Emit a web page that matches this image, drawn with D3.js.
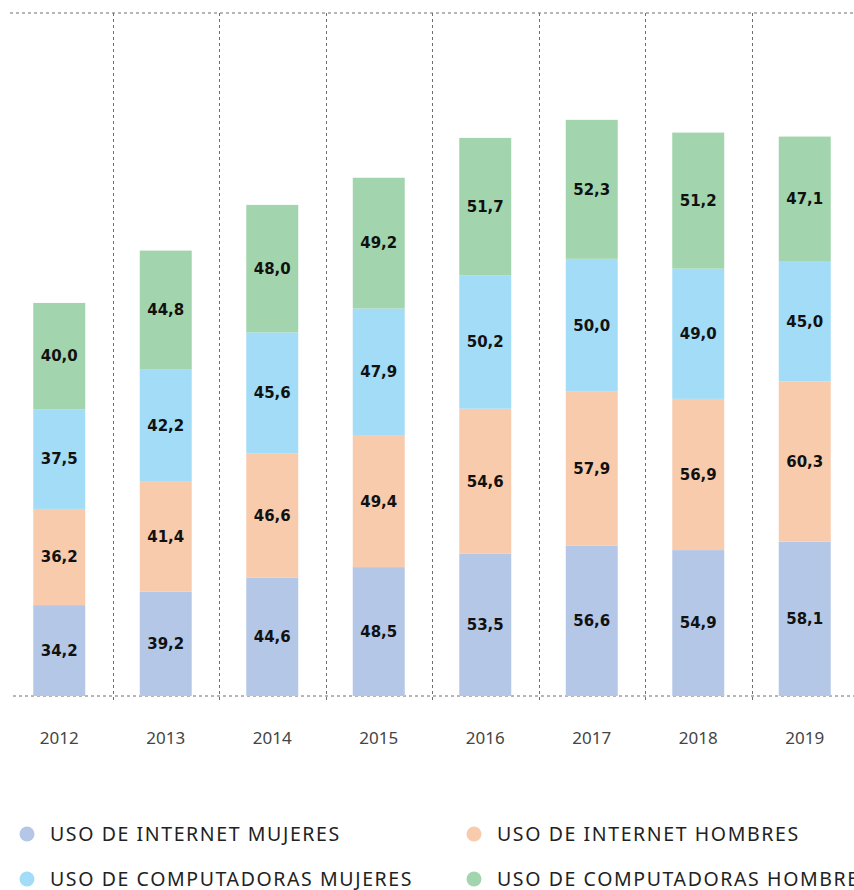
<!DOCTYPE html>
<html>
<head>
<meta charset="utf-8">
<script src="https://cdn.jsdelivr.net/npm/d3@7"></script>
<style>
  body { margin: 0; background: #fff; }
  svg { display: block; font-family: "Noto Sans", "Open Sans", sans-serif; }
</style>
</head>
<body>
<div id="chart"></div>
<script>
// chart data
const years = ["2012", "2013", "2014", "2015", "2016", "2017", "2018", "2019"]
const internetMujeres = [34.2, 39.2, 44.6, 48.5, 53.5, 56.6, 54.9, 58.1]
const internetHombres = [36.2, 41.4, 46.6, 49.4, 54.6, 57.9, 56.9, 60.3]
const compuMujeres = [37.5, 42.2, 45.6, 47.9, 50.2, 50.0, 49.0, 45.0]
const compuHombres = [40.0, 44.8, 48.0, 49.2, 51.7, 52.3, 51.2, 47.1]
const seriesNames = ["USO DE INTERNET MUJERES", "USO DE INTERNET HOMBRES", "USO DE COMPUTADORAS MUJERES", "USO DE COMPUTADORAS HOMBRES"]
const seriesKeys = ["im", "ih", "cm", "ch"]
const colors = ["#b4c7e7", "#f8cbad", "#a3dcf6", "#a2d5ad"]

const width = 854
const height = 890
const baseline = 696
const topY = 13
const fmt = v => d3.format(".1f")(v).replace(".", ",")

// rows for the stack
const rows = years.map((y, i) => ({
  year: y, im: internetMujeres[i], ih: internetHombres[i], cm: compuMujeres[i], ch: compuHombres[i]
}))

const stacked = d3.stack().keys(seriesKeys)(rows)

const svg = d3.select('#chart')
  .append('svg')
  .attr('width', width)
  .attr('height', height)

const xScale = d3.scaleBand()
  .domain(years)
  .range([6, 858])
  .paddingInner(0.512)
  .paddingOuter(0.256)

const yScale = d3.scaleLinear()
  .domain([0, 257])
  .range([baseline, topY])

// dotted frame lines
const dotted = svg.append('g')
  .attr('stroke', '#6f6f6f')
  .attr('stroke-width', 1)
  .attr('stroke-dasharray', '3,3')

dotted.append('line')
  .attr('x1', 10).attr('x2', width)
  .attr('y1', topY).attr('y2', topY)

dotted.append('line')
  .attr('x1', 13).attr('x2', width)
  .attr('y1', baseline).attr('y2', baseline)

const step = xScale.step()
dotted.selectAll('line.sep')
  .data(years.slice(1))
  .enter()
  .append('line')
  .attr('class', 'sep')
  .attr('x1', d => Math.round(xScale(d) - (step - xScale.bandwidth()) / 2) + 0.5)
  .attr('x2', d => Math.round(xScale(d) - (step - xScale.bandwidth()) / 2) + 0.5)
  .attr('y1', topY)
  .attr('y2', baseline + 4)

// bars
const layers = svg.selectAll('g.layer')
  .data(stacked)
  .enter()
  .append('g')
  .attr('class', 'layer')
  .attr('fill', (d, i) => colors[i])

layers.selectAll('rect')
  .data(d => d)
  .enter()
  .append('rect')
  .attr('x', d => xScale(d.data.year))
  .attr('width', xScale.bandwidth())
  .attr('y', d => yScale(d[1]))
  .attr('height', d => yScale(d[0]) - yScale(d[1]))

// value labels
layers.selectAll('text')
  .data(d => d.map(p => ({ p: p, key: d.key })))
  .enter()
  .append('text')
  .attr('x', d => xScale(d.p.data.year) + xScale.bandwidth() / 2)
  .attr('y', d => (yScale(d.p[0]) + yScale(d.p[1])) / 2)
  .attr('dy', '0.35em')
  .attr('text-anchor', 'middle')
  .attr('fill', '#111')
  .attr('font-size', 15)
  .attr('font-weight', 'bold')
  .attr('font-family', '"DejaVu Sans", sans-serif')
  .text(d => fmt(d.p.data[d.key]))

// year axis (labels only)
const xAxis = d3.axisBottom(xScale).tickSize(0).tickPadding(0)
const axisG = svg.append('g')
  .attr('transform', 'translate(0,' + 744 + ')')
  .call(xAxis)
axisG.select('.domain').remove()
axisG.selectAll('text')
  .attr('font-size', 17)
  .attr('fill', '#444')
  .attr('font-family', '"Noto Sans", sans-serif')
  .attr('dy', '0')

// legend
const legendPos = [[27, 834], [474, 834], [27, 879], [474, 879]]
const legend = svg.selectAll('g.legend')
  .data(seriesNames)
  .enter()
  .append('g')
  .attr('class', 'legend')
  .attr('transform', (d, i) => 'translate(' + legendPos[i][0] + ',' + legendPos[i][1] + ')')

legend.append('circle')
  .attr('r', 7.5)
  .attr('fill', (d, i) => colors[i])

legend.append('text')
  .attr('x', 23)
  .attr('dy', '0.35em')
  .attr('font-size', 19.5)
  .attr('letter-spacing', 1.6)
  .attr('fill', '#222')
  .text(d => d)
</script>
</body>
</html>
